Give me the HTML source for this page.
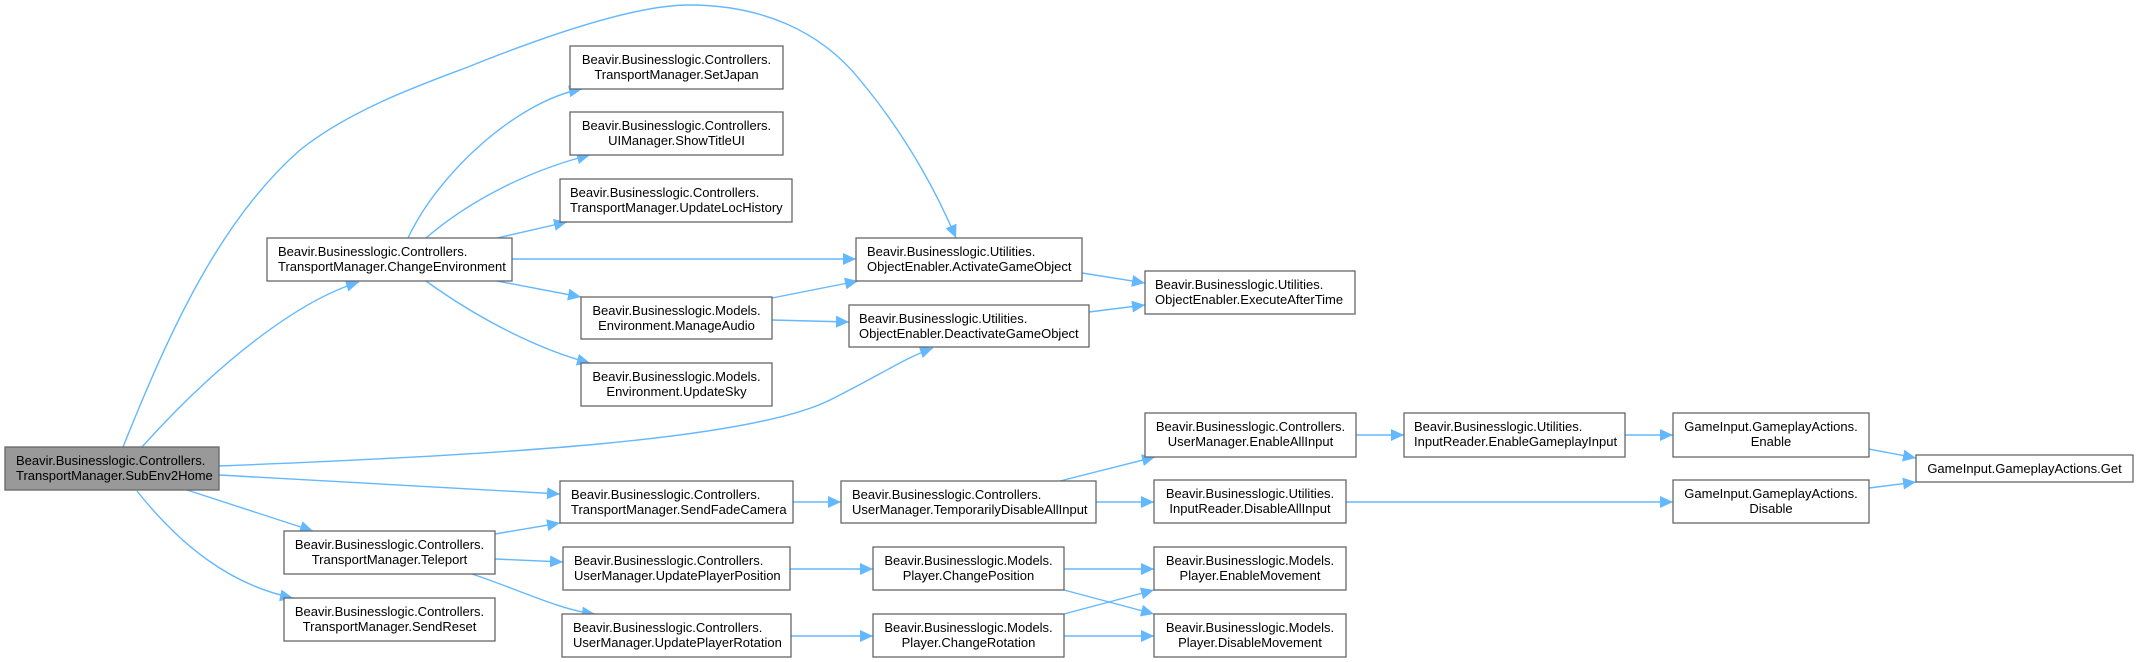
<!DOCTYPE html>
<html><head><meta charset="utf-8"><style>
html,body{margin:0;padding:0;background:#fff;}
svg{display:block;}
text{font-family:"Liberation Sans",Arial,sans-serif;font-size:13px;fill:#000;}
.n{fill:#fff;stroke:#666;stroke-width:1.3;}
.e{fill:none;stroke:#63b8ff;stroke-width:1.4;}
</style></head><body>
<svg width="2138" height="662" viewBox="0 0 2138 662" xmlns="http://www.w3.org/2000/svg">
<defs>
<marker id="a" markerUnits="userSpaceOnUse" markerWidth="14" markerHeight="12" refX="13" refY="6" orient="auto">
<path d="M0,0 L13,6 L0,12 z" fill="#63b8ff"/>
</marker>
</defs>
<g marker-end="url(#a)">
<path class="e" d="M142,447 C220,360 300,300 359,282"/>
<path class="e" d="M123,447 C170,330 220,220 300,150 C350,110 420,85 468,67 C560,30 640,5 689,5 C760,5 820,30 860,80 C910,140 940,200 956,238"/>
<path class="e" d="M219,466 C500,455 750,440 830,400 C880,375 905,358 933,348"/>
<path class="e" d="M219,475 L560,494"/>
<path class="e" d="M187,490 L313,531"/>
<path class="e" d="M137,491 C180,545 230,585 293,598"/>
<path class="e" d="M408,238 C440,170 520,100 582,89"/>
<path class="e" d="M426,238 C470,200 530,170 590,155"/>
<path class="e" d="M497,238 L567,222"/>
<path class="e" d="M512,259 L856,259"/>
<path class="e" d="M497,281 L581,297"/>
<path class="e" d="M426,281 C480,320 540,350 590,363"/>
<path class="e" d="M772,298 L858,281"/>
<path class="e" d="M772,320 L849,322"/>
<path class="e" d="M1082,273 L1145,283"/>
<path class="e" d="M1089,312 L1145,305"/>
<path class="e" d="M793,502 L841,502"/>
<path class="e" d="M495,534 L560,523"/>
<path class="e" d="M495,559 L563,562"/>
<path class="e" d="M472,574 C520,590 560,610 595,614"/>
<path class="e" d="M1060,481 L1155,457"/>
<path class="e" d="M1095,502 L1154,502"/>
<path class="e" d="M1356,435 L1404,435"/>
<path class="e" d="M1625,435 L1673,435"/>
<path class="e" d="M1869,449 L1916,458"/>
<path class="e" d="M1869,488 L1916,482"/>
<path class="e" d="M1346,502 L1673,502"/>
<path class="e" d="M790,569 L873,569"/>
<path class="e" d="M791,636 L873,636"/>
<path class="e" d="M1064,569 L1154,569"/>
<path class="e" d="M1064,590 L1154,614"/>
<path class="e" d="M1064,614 L1154,590"/>
<path class="e" d="M1064,636 L1154,636"/>
</g>

<rect x="5" y="447" width="214" height="43" fill="#999" stroke="#666" stroke-width="1.3"/>
<text x="16" y="465">Beavir.Businesslogic.Controllers.</text>
<text x="16" y="480">TransportManager.SubEnv2Home</text>

<rect class="n" x="267" y="238" width="245" height="43"/>
<text x="278" y="256">Beavir.Businesslogic.Controllers.</text>
<text x="278" y="271">TransportManager.ChangeEnvironment</text>

<rect class="n" x="570" y="46" width="213" height="43"/>
<text x="676.5" y="64" text-anchor="middle">Beavir.Businesslogic.Controllers.</text>
<text x="676.5" y="79" text-anchor="middle">TransportManager.SetJapan</text>

<rect class="n" x="570" y="112" width="213" height="43"/>
<text x="676.5" y="130" text-anchor="middle">Beavir.Businesslogic.Controllers.</text>
<text x="676.5" y="145" text-anchor="middle">UIManager.ShowTitleUI</text>

<rect class="n" x="560" y="179" width="232" height="43"/>
<text x="570" y="197">Beavir.Businesslogic.Controllers.</text>
<text x="570" y="212">TransportManager.UpdateLocHistory</text>

<rect class="n" x="581" y="297" width="191" height="42"/>
<text x="676.5" y="315" text-anchor="middle">Beavir.Businesslogic.Models.</text>
<text x="676.5" y="330" text-anchor="middle">Environment.ManageAudio</text>

<rect class="n" x="581" y="363" width="191" height="43"/>
<text x="676.5" y="381" text-anchor="middle">Beavir.Businesslogic.Models.</text>
<text x="676.5" y="396" text-anchor="middle">Environment.UpdateSky</text>

<rect class="n" x="856" y="238" width="226" height="43"/>
<text x="867" y="256">Beavir.Businesslogic.Utilities.</text>
<text x="867" y="271">ObjectEnabler.ActivateGameObject</text>

<rect class="n" x="849" y="305" width="240" height="42"/>
<text x="859" y="323">Beavir.Businesslogic.Utilities.</text>
<text x="859" y="338">ObjectEnabler.DeactivateGameObject</text>

<rect class="n" x="1145" y="271" width="210" height="43"/>
<text x="1155" y="289">Beavir.Businesslogic.Utilities.</text>
<text x="1155" y="304">ObjectEnabler.ExecuteAfterTime</text>

<rect class="n" x="560" y="481" width="233" height="42"/>
<text x="571" y="499">Beavir.Businesslogic.Controllers.</text>
<text x="571" y="514">TransportManager.SendFadeCamera</text>

<rect class="n" x="284" y="531" width="211" height="43"/>
<text x="389.5" y="549" text-anchor="middle">Beavir.Businesslogic.Controllers.</text>
<text x="389.5" y="564" text-anchor="middle">TransportManager.Teleport</text>

<rect class="n" x="284" y="598" width="211" height="43"/>
<text x="389.5" y="616" text-anchor="middle">Beavir.Businesslogic.Controllers.</text>
<text x="389.5" y="631" text-anchor="middle">TransportManager.SendReset</text>

<rect class="n" x="563" y="547" width="227" height="43"/>
<text x="574" y="565">Beavir.Businesslogic.Controllers.</text>
<text x="574" y="580">UserManager.UpdatePlayerPosition</text>

<rect class="n" x="562" y="614" width="229" height="43"/>
<text x="573" y="632">Beavir.Businesslogic.Controllers.</text>
<text x="573" y="647">UserManager.UpdatePlayerRotation</text>

<rect class="n" x="841" y="481" width="255" height="42"/>
<text x="852" y="499">Beavir.Businesslogic.Controllers.</text>
<text x="852" y="514">UserManager.TemporarilyDisableAllInput</text>

<rect class="n" x="873" y="547" width="191" height="43"/>
<text x="968.5" y="565" text-anchor="middle">Beavir.Businesslogic.Models.</text>
<text x="968.5" y="580" text-anchor="middle">Player.ChangePosition</text>

<rect class="n" x="873" y="614" width="191" height="43"/>
<text x="968.5" y="632" text-anchor="middle">Beavir.Businesslogic.Models.</text>
<text x="968.5" y="647" text-anchor="middle">Player.ChangeRotation</text>

<rect class="n" x="1145" y="413" width="211" height="44"/>
<text x="1250.5" y="431" text-anchor="middle">Beavir.Businesslogic.Controllers.</text>
<text x="1250.5" y="446" text-anchor="middle">UserManager.EnableAllInput</text>

<rect class="n" x="1154" y="480" width="192" height="43"/>
<text x="1250" y="498" text-anchor="middle">Beavir.Businesslogic.Utilities.</text>
<text x="1250" y="513" text-anchor="middle">InputReader.DisableAllInput</text>

<rect class="n" x="1154" y="547" width="192" height="43"/>
<text x="1250" y="565" text-anchor="middle">Beavir.Businesslogic.Models.</text>
<text x="1250" y="580" text-anchor="middle">Player.EnableMovement</text>

<rect class="n" x="1154" y="614" width="192" height="43"/>
<text x="1250" y="632" text-anchor="middle">Beavir.Businesslogic.Models.</text>
<text x="1250" y="647" text-anchor="middle">Player.DisableMovement</text>

<rect class="n" x="1404" y="413" width="221" height="44"/>
<text x="1414" y="431">Beavir.Businesslogic.Utilities.</text>
<text x="1414" y="446">InputReader.EnableGameplayInput</text>

<rect class="n" x="1673" y="413" width="196" height="44"/>
<text x="1771" y="431" text-anchor="middle">GameInput.GameplayActions.</text>
<text x="1771" y="446" text-anchor="middle">Enable</text>

<rect class="n" x="1673" y="480" width="196" height="43"/>
<text x="1771" y="498" text-anchor="middle">GameInput.GameplayActions.</text>
<text x="1771" y="513" text-anchor="middle">Disable</text>

<rect class="n" x="1916" y="455" width="217" height="27"/>
<text x="2024.5" y="473" text-anchor="middle">GameInput.GameplayActions.Get</text>
</svg>
</body></html>
